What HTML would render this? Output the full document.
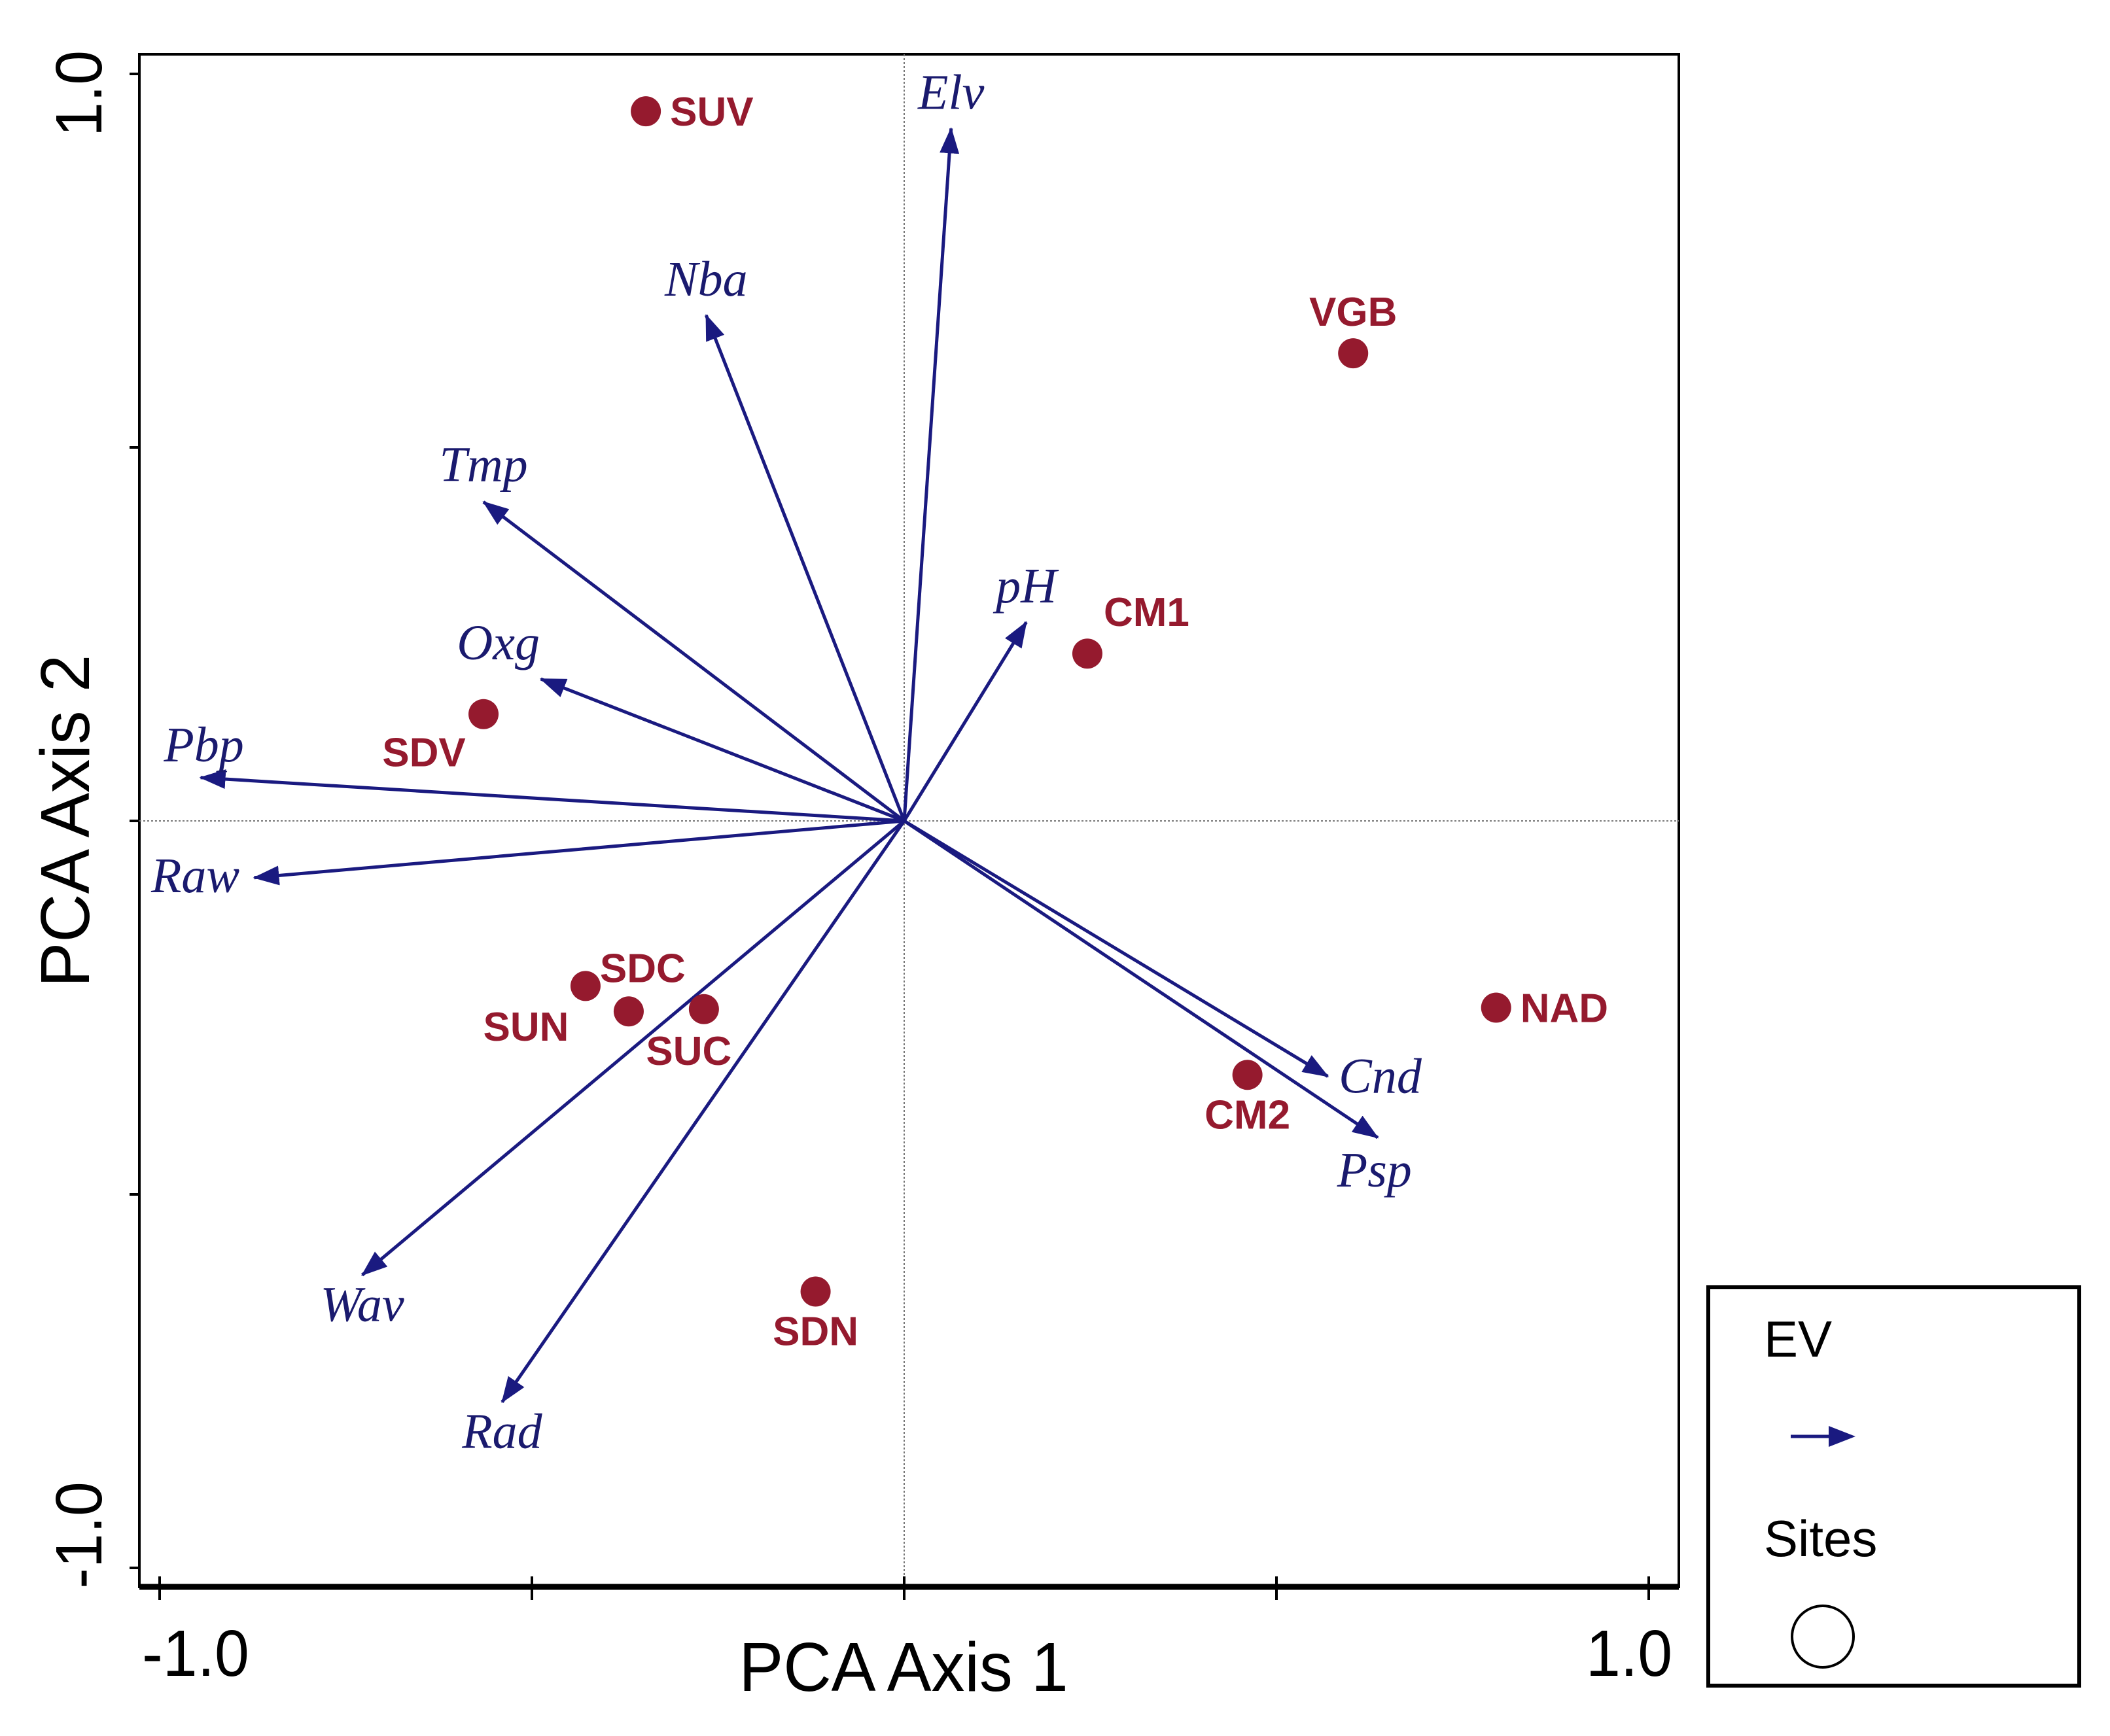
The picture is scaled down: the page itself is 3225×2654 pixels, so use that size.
<!DOCTYPE html>
<html><head><meta charset="utf-8"><style>
html,body{margin:0;padding:0;background:#fff;}
svg{display:block;}
.tick{font-family:"Liberation Sans",sans-serif;font-size:100px;fill:#000;}
.ev{font-family:"Liberation Serif",serif;font-style:italic;font-size:76px;fill:#1a1a6e;}
.site{font-family:"Liberation Sans",sans-serif;font-weight:bold;font-size:62px;fill:#951a2e;}
</style></head><body>
<svg id="chart" width="3225" height="2654" viewBox="0 0 3225 2654" xmlns="http://www.w3.org/2000/svg">
<defs>
<marker id="ah" viewBox="0 0 40 30" refX="38" refY="15" markerWidth="40" markerHeight="30" markerUnits="userSpaceOnUse" orient="auto">
<path d="M0,0 L40,15 L0,30 z" fill="#1a1a80"/>
</marker>
</defs>
<rect x="213" y="83" width="2353" height="2343" fill="none" stroke="#000" stroke-width="4"/>
<line x1="213" y1="2426" x2="2566" y2="2426" stroke="#000" stroke-width="9"/>
<g id="axes"></g>
<g id="arrows"></g>
<g id="sites"></g>
<text x="0" y="0" text-anchor="middle" font-family="Liberation Sans, sans-serif" font-size="106" transform="translate(1381 2585) scale(0.96 1)">PCA Axis 1</text>
<text x="0" y="0" text-anchor="middle" font-family="Liberation Sans, sans-serif" font-size="106" transform="translate(136 1255) rotate(-90) scale(0.97 1)">PCA Axis 2</text>
<g>
<rect x="2611" y="1968" width="567" height="609" fill="#fff" stroke="#000" stroke-width="6"/>
<text x="2696" y="2074" font-family="Liberation Sans, sans-serif" font-size="78">EV</text>
<line x1="2737" y1="2196" x2="2800" y2="2196" stroke="#1a1a80" stroke-width="5"/>
<path d="M2795,2180 L2836,2196 L2795,2212 z" fill="#1a1a80"/>
<text x="2696" y="2379" font-family="Liberation Sans, sans-serif" font-size="78">Sites</text>
<circle cx="2786" cy="2502" r="47" fill="none" stroke="#000" stroke-width="4"/>
</g>
</svg>
<script>
const evNames = ["Elv","Nba","Tmp","pH","Oxg","Pbp","Raw","Wav","Rad","Cnd","Psp"];
const evX = [0.063,-0.266,-0.565,0.164,-0.488,-0.945,-0.873,-0.728,-0.540,0.569,0.636];
const evY = [0.927,0.677,0.427,0.266,0.190,0.058,-0.076,-0.608,-0.778,-0.342,-0.424];
const siteNames = ["SUV","VGB","CM1","SDV","SDC","SUN","SUC","SDN","CM2","NAD"];
const siteX = [-0.347,0.603,0.246,-0.565,-0.428,-0.370,-0.269,-0.119,0.461,0.795];
const siteY = [0.950,0.626,0.224,0.143,-0.221,-0.255,-0.252,-0.630,-0.340,-0.250];
const xTicks = [-1,-0.5,0,0.5,1];
const yTicks = [-1,-0.5,0,0.5,1];
const xTickLabels = ["-1.0","","","","1.0"];
const yTickLabels = ["-1.0","","","","1.0"];

const X0 = 1382, XU = 1138, Y0 = 1255, YU = 1142;
function sx(v){ return X0 + v*XU; }
function sy(v){ return Y0 - v*YU; }
const NS = "http://www.w3.org/2000/svg";
function mk(tag, attrs, parent){
  const e = document.createElementNS(NS, tag);
  for (const k in attrs) e.setAttribute(k, attrs[k]);
  parent.appendChild(e); return e;
}
const axes = document.getElementById('axes');
let l = mk('line',{x1:sx(0),y1:83,x2:sx(0),y2:2426,stroke:'#777','stroke-width':2,'stroke-dasharray':'3,3'},axes);


l = mk('line',{x1:213,y1:sy(0),x2:2566,y2:sy(0),stroke:'#777','stroke-width':2,'stroke-dasharray':'3,3'},axes);


xTicks.forEach((t,i)=>{
  const tk = mk('line',{x1:sx(t),y1:2410,x2:sx(t),y2:2446,stroke:'#000','stroke-width':4},axes);
  
  
  if (xTickLabels[i]) {
    const tx = mk('text',{x:0,y:0,'text-anchor':'middle',class:'tick',transform:`translate(${sx(t)+(t<0?55:-30)} 2562) scale(0.95 1)`},axes);
    tx.textContent = xTickLabels[i];
    
    
  }
});
yTicks.forEach((t,i)=>{
  const tk = mk('line',{x1:198,y1:sy(t),x2:213,y2:sy(t),stroke:'#000','stroke-width':4},axes);
  
  
  if (yTickLabels[i]) {
    const cy = sy(t) + (t<0 ? -50 : 30);
    const tx = mk('text',{x:0,y:0,'text-anchor':'middle',class:'tick',transform:`translate(155 ${cy}) rotate(-90) scale(0.95 1)`},axes);
    tx.textContent = yTickLabels[i];
    
    
  }
});
const evOff = {Elv:[0,-30],Nba:[0,-30],Tmp:[0,-32],pH:[0,-30],Oxg:[-65,-30],Pbp:[5,-25],Raw:[-90,22],Wav:[0,70],Rad:[0,70],Cnd:[80,25],Psp:[-5,75]};
const arrows = document.getElementById('arrows');
evNames.forEach((n,i)=>{
  const ln = mk('line',{x1:sx(0),y1:sy(0),x2:sx(evX[i]),y2:sy(evY[i]),stroke:'#1a1a80','stroke-width':5,'marker-end':'url(#ah)'},arrows);
  
  
  const o = evOff[n];
  const tx = mk('text',{x:sx(evX[i])+o[0],y:sy(evY[i])+o[1],'text-anchor':'middle',class:'ev'},arrows);
  tx.textContent = n;
  
  
});
const siteOff = {SUV:[37,22,'start'],VGB:[0,-42,'middle'],CM1:[25,-42,'start'],SDV:[-91,80,'middle'],SDC:[22,-6,'start'],SUN:[-157,45,'middle'],SUC:[-23,85,'middle'],SDN:[0,82,'middle'],CM2:[0,82,'middle'],NAD:[37,22,'start']};
const sites = document.getElementById('sites');
siteNames.forEach((n,i)=>{
  const c = mk('circle',{cx:sx(siteX[i]),cy:sy(siteY[i]),r:23,fill:'#951a2e'},sites);
  
  
  const o = siteOff[n];
  const tx = mk('text',{x:sx(siteX[i])+o[0],y:sy(siteY[i])+o[1],'text-anchor':o[2],class:'site'},sites);
  tx.textContent = n;
  
  
});
</script>
</body></html>
